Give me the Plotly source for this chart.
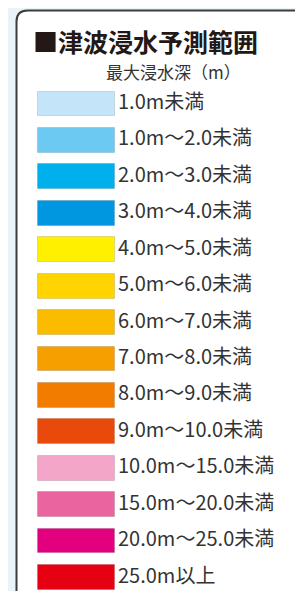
import plotly.graph_objects as go

title = "■津波浸水予測範囲"
subtitle = "最大浸水深（m）"
labels = [
    "1.0m未満", "1.0m～2.0未満", "2.0m～3.0未満", "3.0m～4.0未満",
    "4.0m～5.0未満", "5.0m～6.0未満", "6.0m～7.0未満", "7.0m～8.0未満",
    "8.0m～9.0未満", "9.0m～10.0未満", "10.0m～15.0未満", "15.0m～20.0未満",
    "20.0m～25.0未満", "25.0m以上",
]
colors = [
    "#c4e5f9", "#6cc9f2", "#00b0ec", "#0096e0",
    "#fff000", "#ffd400", "#fbbc00", "#f5a000",
    "#f27c00", "#e94a0c", "#f3a6c8", "#ea65a0",
    "#e3007f", "#e50012",
]
swatch_len = [77] * len(labels)

W, H = 303, 591
FONT = "Noto Sans CJK JP"

fig = go.Figure()
fig.add_trace(go.Bar(
    orientation="h",
    y=labels,
    x=swatch_len,
    base=30,
    width=0.68,
    marker=dict(color=colors, line=dict(color="rgba(0,0,0,0.12)", width=1)),
    hoverinfo="skip",
    showlegend=False,
))
fig.add_trace(go.Scatter(
    y=labels,
    x=[110] * len(labels),
    mode="text",
    text=labels,
    textposition="middle right",
    textfont=dict(family=FONT, size=20, color="#333333"),
    hoverinfo="skip",
    showlegend=False,
))

def px(x):
    return x / W

def py(y):
    return 1 - y / H

r = 11
x0, x1, y0, y1 = 8.5, 297.5, 2.5, 600
path = (
    f"M {px(x0)},{py(y1)} L {px(x0)},{py(y0 + r)} "
    f"Q {px(x0)},{py(y0)} {px(x0 + r)},{py(y0)} "
    f"L {px(x1 - r)},{py(y0)} "
    f"Q {px(x1)},{py(y0)} {px(x1)},{py(y0 + r)} "
    f"L {px(x1)},{py(y1)} Z"
)

fig.update_layout(
    width=W, height=H,
    margin=dict(l=0, r=0, t=0, b=0),
    paper_bgcolor="#eaf3f8",
    plot_bgcolor="rgba(0,0,0,0)",
    bargap=0,
    xaxis=dict(range=[0, W], visible=False, fixedrange=True),
    yaxis=dict(type="category", categoryorder="array", categoryarray=labels,
               range=[13.59, -2.636], visible=False, fixedrange=True),
    shapes=[dict(type="path", path=path, xref="paper", yref="paper",
                 fillcolor="#ffffff", line=dict(color="#3c3c3c", width=2),
                 layer="below")],
    annotations=[
        dict(text=f"<b>{title}</b>", xref="paper", yref="paper",
             x=px(23), y=py(33), xanchor="left", yanchor="middle",
             showarrow=False, font=dict(family=FONT, size=25, color="#231815")),
        dict(text=subtitle, xref="paper", yref="paper",
             x=px(96), y=py(64), xanchor="left", yanchor="middle",
             showarrow=False, font=dict(family=FONT, size=17, color="#333333")),
    ],
)
fig.write_html("out.html")
